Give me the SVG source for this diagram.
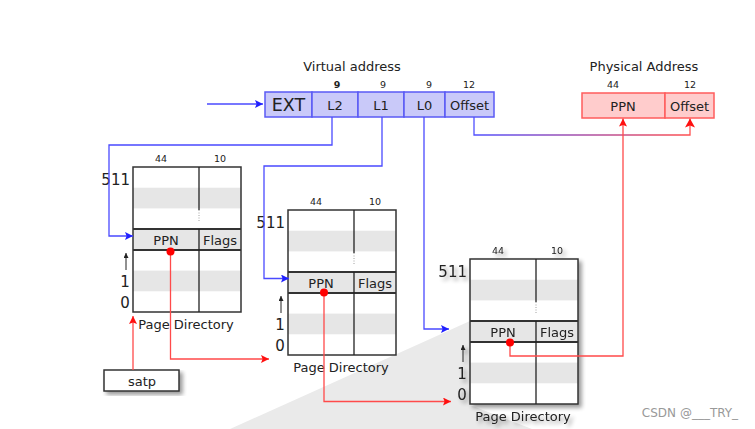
<svg xmlns="http://www.w3.org/2000/svg" width="755" height="429" viewBox="0 0 755 429">
<style>
text{font-family:"DejaVu Sans","Liberation Sans",sans-serif;fill:#222}
.t{font-size:13px;text-anchor:middle}
.s{font-size:9.5px;text-anchor:middle}
.n{font-size:15px}
.cell{fill:#c9c9f9;stroke:#5a5af5;stroke-width:1.5}
.pcell{fill:#ffcccc;stroke:#ff5c5c;stroke-width:1.5}
.ln{fill:none;stroke-width:1.3}
.b{stroke:#4a4aff}
.r{stroke:#ff4a4a}
.wh{fill:#fff}
.gr{fill:#e6e6e6}
.bd{fill:none;stroke:#333;stroke-width:1.5}
</style>
<defs>
<marker id="ab" viewBox="0 0 10 10" refX="10" refY="5" markerWidth="10" markerHeight="8" markerUnits="userSpaceOnUse" orient="auto"><path d="M0,0L10,5L0,10L2,5z" fill="#2020ff"/></marker>
<marker id="ar" viewBox="0 0 10 10" refX="10" refY="5" markerWidth="10" markerHeight="8" markerUnits="userSpaceOnUse" orient="auto"><path d="M0,0L10,5L0,10L2,5z" fill="#ff1010"/></marker>
<marker id="ak" viewBox="0 0 10 10" refX="10" refY="5" markerWidth="7" markerHeight="5" markerUnits="userSpaceOnUse" orient="auto"><path d="M0,0L10,5L0,10z" fill="#222"/></marker>
<linearGradient id="grad" gradientUnits="userSpaceOnUse" x1="474" y1="0" x2="690" y2="0"><stop offset="0" stop-color="#5050ff"/><stop offset="1" stop-color="#ff5050"/></linearGradient>
<filter id="sh" x="-10%" y="-10%" width="130%" height="130%"><feGaussianBlur in="SourceAlpha" stdDeviation="2"/><feOffset dx="3" dy="3"/><feComponentTransfer><feFuncA type="linear" slope="0.4"/></feComponentTransfer><feMerge><feMergeNode/><feMergeNode in="SourceGraphic"/></feMerge></filter>
<g id="tbl">
<rect x="0" y="0" width="108" height="145" class="wh"/>
<rect x="0" y="20.7" width="108" height="20.7" class="gr"/>
<rect x="0" y="62.1" width="108" height="20.8" class="gr"/>
<rect x="0" y="103.6" width="108" height="20.7" class="gr"/>
<rect x="0" y="0" width="108" height="145" class="bd"/>
<line x1="0" y1="62.1" x2="108" y2="62.1" stroke="#333" stroke-width="2"/>
<line x1="0" y1="82.9" x2="108" y2="82.9" stroke="#333" stroke-width="2"/>
<line x1="66" y1="0" x2="66" y2="43" stroke="#222" stroke-width="1.3"/>
<line x1="66" y1="43" x2="66" y2="55" stroke="#888" stroke-width="0.8" stroke-dasharray="1,1.5"/>
<line x1="66" y1="62" x2="66" y2="145" stroke="#222" stroke-width="1.3"/>
<text x="28" y="-5" class="s">44</text>
<text x="87" y="-5" class="s">10</text>
<text x="-3" y="18" class="n" text-anchor="end">511</text>
<text x="33" y="78" class="t">PPN</text>
<text x="87" y="78" class="t">Flags</text>
<text x="-8" y="120" class="n" text-anchor="middle">1</text>
<text x="-8" y="141" class="n" text-anchor="middle">0</text>
<line x1="-7" y1="103" x2="-7" y2="86" stroke="#222" stroke-width="1" marker-end="url(#ak)"/>
<text x="53" y="162" class="t">Page Directory</text>
</g>
</defs>
<rect width="755" height="429" fill="#fff"/>
<polygon points="230,429 470,321 470,405 532,429" fill="#eaeaea"/>

<g id="vaddr">
<text x="352" y="71" class="t">Virtual address</text>
<rect x="265" y="92" width="47" height="25" class="cell"/>
<rect x="312" y="92" width="46" height="25" class="cell"/>
<rect x="358" y="92" width="46" height="25" class="cell"/>
<rect x="404" y="92" width="41" height="25" class="cell"/>
<rect x="445" y="92" width="49" height="25" class="cell"/>
<text x="288.5" y="111" font-size="17.5" text-anchor="middle">EXT</text>
<text x="335" y="109.5" class="t">L2</text>
<text x="381" y="109.5" class="t">L1</text>
<text x="424.5" y="109.5" class="t">L0</text>
<text x="469.5" y="109.5" class="t">Offset</text>
<text x="337" y="88" class="s" font-weight="bold">9</text>
<text x="383" y="88" class="s">9</text>
<text x="429" y="88" class="s">9</text>
<text x="469" y="88" class="s">12</text>
</g>

<g id="paddr">
<text x="644" y="71" class="t">Physical Address</text>
<rect x="582" y="93" width="83" height="25" class="pcell"/>
<rect x="665" y="93" width="49" height="25" class="pcell"/>
<text x="623" y="110.5" class="t">PPN</text>
<text x="689.5" y="110.5" class="t">Offset</text>
<text x="613" y="88" class="s">44</text>
<text x="690" y="88" class="s">12</text>
</g>

<g id="pd1"><use href="#tbl" x="133" y="167"/></g>
<g id="pd2"><use href="#tbl" x="288" y="210"/></g>
<g id="pd3" filter="url(#sh)"><use href="#tbl" x="470" y="259"/></g>

<g id="satp">
<rect x="104" y="370" width="75" height="21" fill="#fff" stroke="#333" stroke-width="1.5" filter="url(#sh)"/>
<text x="142" y="385.5" class="t">satp</text>
</g>

<g id="connectors">
<line x1="207" y1="104" x2="263" y2="104" class="ln b" marker-end="url(#ab)"/>
<polyline points="332,117 332,145 109,145 109,236 133,236" class="ln b" marker-end="url(#ab)"/>
<polyline points="382,117 382,166 264,166 264,278.5 289,278.5" class="ln b" marker-end="url(#ab)"/>
<polyline points="424,117 424,329 449,329" class="ln b" marker-end="url(#ab)"/>
<polyline points="474,117 474,135 690,135 690,118.5" class="ln" stroke="url(#grad)"/>
<path d="M690,118.5 l-5,9 l5,-2 l5,2z" fill="#ff1010"/>
<line x1="133" y1="370" x2="133" y2="316" class="ln r" marker-end="url(#ar)"/>
<polyline points="170.5,251.5 170.5,359 269,359" class="ln r" marker-end="url(#ar)"/>
<polyline points="324,292.5 324,401.5 451,401.5" class="ln r" marker-end="url(#ar)"/>
<polyline points="510,342.5 510,356 623,356 623,118.5" class="ln r" marker-end="url(#ar)"/>
<circle cx="170.5" cy="251.5" r="4" fill="#ff0000"/>
<circle cx="324" cy="292.5" r="4" fill="#ff0000"/>
<circle cx="510" cy="342.5" r="4" fill="#ff0000"/>
</g>

<text x="690" y="417" font-family="Liberation Sans,sans-serif" font-size="12" text-anchor="middle" style="fill:#999">CSDN @___TRY_</text>
</svg>
